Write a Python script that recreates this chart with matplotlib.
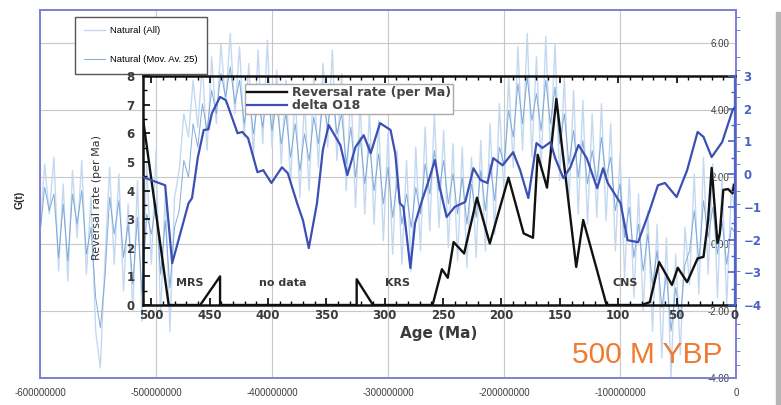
import numpy as np
import matplotlib
matplotlib.use('Agg')
import matplotlib.pyplot as plt
from matplotlib.ticker import MultipleLocator, AutoMinorLocator
from matplotlib.patches import Rectangle
from matplotlib import font_manager

names = {f.name for f in font_manager.fontManager.ttflist}
SANS = 'Liberation Sans' if 'Liberation Sans' in names else 'DejaVu Sans'

# ---------------- data ----------------
# Outer chart: "Natural" G(t) series, every 4 Ma from -600 Ma to 0
natural_age_ma = np.arange(-600, 1, 4)
natural_all = [
    0.3, 2.4, 0.9, 2.6, -0.8, 1.8, -1.1, 2.2, 0.2, 2.5,
    -0.9, 1.4, -2.6, -3.7, -0.5, 2.3, -0.6, 2.1, -1.4, 1.2,
    -2.0, 1.9, -2.3, 2.4, -0.6, 2.8, -2.2, 1.6, -2.6, 1.4,
    2.2, 3.9, 3.2, 4.9, 3.5, 5.4, 2.8, 5.6, 3.6, 6.0,
    4.2, 6.3, 3.9, 5.9, 3.2, 5.4, 2.6, 5.8, 3.0, 6.1,
    2.9, 5.2, 2.4, 4.9, 1.8, 4.6, 1.4, 4.3, 1.6, 5.0,
    2.3, 5.4, 2.9, 5.8, 2.5, 5.1, 1.6, 4.7, 1.1, 4.2,
    0.9, 4.0, 0.6, 3.7, 0.1, 3.3, -0.3, 2.8, -0.6, 2.5,
    -0.8, 2.9, -0.2, 3.5, 0.4, 3.9, 0.5, 3.4, -0.1, 3.0,
    -0.5, 2.9, -0.7, 2.6, -0.4, 3.1, -0.2, 3.6, 0.3, 4.2,
    1.5, 5.0, 2.3, 5.9, 2.8, 6.3, 2.6, 5.6, 2.2, 6.2,
    2.7, 6.0, 1.9, 5.0, 1.2, 4.6, 0.9, 4.3, 0.6, 3.9,
    0.8, 4.2, 0.7, 3.6, -0.2, 2.7, -1.0, 2.0, -1.6, 1.5,
    -2.0, 1.0, -2.6, 0.6, -3.4, 0.2, -4.0, -0.3, -3.3, 0.5,
    -1.2, 2.1, -1.5, 2.6, -0.9, 2.4, -1.6, 2.0, -1.8, 1.7, 0.7,
]
natural_mov_av = [
    0.3, 1.7, 1.0, 1.5, -0.4, 1.2, -0.5, 1.5, 0.6, 1.6,
    -0.3, 0.5, -1.6, -2.5, -1.0, 1.4, 0.3, 1.3, -0.4, 0.6,
    -1.2, 0.8, -1.5, 0.9, 0.3, 1.2, -0.9, 0.7, -1.3, 0.5,
    1.0, 2.5, 2.0, 3.6, 2.9, 4.2, 3.4, 4.6, 3.9, 5.1,
    4.4, 5.3, 4.2, 4.9, 3.6, 4.5, 3.3, 4.3, 3.5, 4.6,
    3.4, 4.2, 3.0, 3.9, 2.6, 3.6, 2.2, 3.3, 2.5, 3.8,
    3.0, 4.3, 3.5, 4.6, 3.3, 3.9, 2.4, 3.5, 2.0, 3.2,
    1.8, 3.0, 1.6, 2.7, 1.2, 2.3, 0.8, 1.9, 0.6, 1.5,
    0.5, 1.7, 0.9, 2.4, 1.5, 2.8, 1.6, 2.5, 1.2, 2.1,
    0.9, 2.0, 0.6, 1.8, 0.8, 2.2, 1.0, 2.4, 1.3, 2.9,
    2.4, 4.0, 3.2, 4.8, 3.6, 5.0, 3.7, 4.5, 3.4, 4.9,
    3.6, 4.7, 3.0, 3.9, 2.4, 3.4, 2.0, 3.1, 1.8, 2.8,
    1.9, 3.2, 2.0, 2.6, 1.0, 1.8, 0.2, 1.1, -0.4, 0.6,
    -0.8, 0.3, -1.2, -0.2, -1.9, -0.9, -2.6, -1.3, -2.2, -0.6,
    -0.2, 1.0, -0.5, 1.3, 0.2, 1.1, -0.3, 0.7, -0.6, 0.5, 0.3,
]
outer_xticks = [-600000000, -500000000, -400000000, -300000000, -200000000, -100000000, 0]
outer_xlabels = ['-600000000', '-500000000', '-400000000', '-300000000',
                 '-200000000', '-100000000', '0']
outer_yticks = [-4, -2, 0, 2, 4, 6]
outer_ylabels = ['-4.00', '-2.00', '0.00', '2.00', '4.00', '6.00']

# Inner chart: reversal rate (per Ma) vs age (Ma)
rev_age = [507, 485, 458, 441, 441, 324, 324, 310, 259, 251, 246, 241, 232, 221, 210,
           194, 181, 173, 169, 161, 153, 136, 130, 110, 80, 73, 65, 54, 49, 41,
           32, 27, 23, 20, 15, 13, 10, 6, 2, 1]
rev_rate = [6.5, 0, 0, 1.0, 0, 0, 0.9, 0, 0, 1.25, 0.95, 2.2, 1.8, 3.75, 2.15,
            4.45, 2.5, 2.35, 5.25, 4.1, 7.2, 1.33, 2.97, 0, 0, 0.1, 1.5, 0.7, 1.3, 0.8,
            1.63, 1.68, 2.97, 4.79, 2.17, 2.5, 4.02, 4.05, 3.9, 4.2]

# Inner chart: delta O18 vs age (Ma)
d18o_age = [507, 488, 482, 478, 468, 465, 460, 455, 451, 448, 441, 436, 426, 422, 417,
            409, 404, 397, 388, 383, 375, 370, 365, 358, 353, 348, 338, 332, 325, 318,
            312, 304, 295, 291, 287, 284, 278, 274, 268, 263, 257, 253, 247, 240, 231,
            224, 218, 212, 207, 199, 190, 184, 177, 170, 165, 158, 154, 147, 141, 134,
            127, 118, 113, 109, 98, 92, 83, 73, 66, 60, 50, 41, 32, 27, 20, 11, 2, 0]
d18o_val = [-0.09, -0.34, -2.72, -2.2, -0.89, -0.73, 0.52, 1.35, 1.37, 1.86, 2.36, 2.26, 1.25, 1.29, 1.1,
            0.06, 0.12, -0.27, 0.21, 0.03, -0.89, -1.41, -2.26, -0.89, 0.73, 1.5, 0.89, -0.03, 0.83, 1.19,
            0.64, 1.56, 1.35, 0.64, -0.89, -1.0, -2.87, -1.5, -0.8, -0.27, 0.43, -0.39, -1.31, -1.0, -0.85,
            0.18, -0.18, -0.27, 0.49, 0.27, 0.67, 0.12, -0.73, 0.95, 0.8, 0.98, 0.49, -0.12, 0.21, 0.89,
            0.49, -0.43, 0.18, -0.27, -0.89, -2.02, -2.08, -1.1, -0.34, -0.27, -0.7, 0.12, 1.29, 1.14, 0.52,
            0.98, 1.96, 2.05]

annotations = [('MRS', 467, 0.77), ('no data', 387, 0.77), ('KRS', 289, 0.77), ('CNS', 94, 0.77)]

# ---------------- figure ----------------
W, H = 781, 405
fig = plt.figure(figsize=(W / 100, H / 100), dpi=100)
fig.patch.set_facecolor('white')


def fr(x0, y0, x1, y1):
    return [x0 / W, 1 - y1 / H, (x1 - x0) / W, (y1 - y0) / H]


FRAME = '#7b80d6'
# ---- outer chart ----
ax0 = fig.add_axes(fr(40, 10, 736, 378))
x_years = natural_age_ma * 1e6
ax0.plot(x_years, natural_all, color='#c4d9f0', lw=1.0, label='Natural (All)', zorder=2)
ax0.plot(x_years, natural_mov_av, color='#6e9dd3', lw=0.7, alpha=0.85,
         label='Natural (Mov. Av. 25)', zorder=3)
ax0.set_xlim(-600e6, 0)
ax0.set_ylim(-4, 7)
ax0.set_xticks(outer_xticks, outer_xlabels, fontfamily=SANS, fontsize=7, color='#404040')
ax0.set_yticks(outer_yticks, outer_ylabels, ha='right', fontfamily=SANS, fontsize=7, color='#404040')
ax0.yaxis.set_minor_locator(AutoMinorLocator(5))
ax0.tick_params(axis='x', length=0, pad=7)
ax0.tick_params(axis='y', which='major', left=False, right=False, labelleft=False,
                labelright=True, pad=-8)
ax0.tick_params(axis='y', which='minor', left=False, right=True, direction='out',
                length=3, color='#6070c8')
ax0.grid(True, color='#c8c8c8', lw=0.8)
ax0.set_axisbelow(True)
for s in ax0.spines.values():
    s.set_color(FRAME)
    s.set_linewidth(1.4)
ax0.legend(loc='upper left', bbox_to_anchor=(75 / W, 1 - 17 / H), bbox_transform=fig.transFigure,
           fancybox=False, edgecolor='#555555', framealpha=1, prop={'family': SANS, 'size': 6.8},
           labelspacing=2.1, handlelength=2.2, borderpad=1.0, borderaxespad=0, handletextpad=0.5)
fig.text(20 / W, 1 - 200 / H, 'G(t)', rotation=90, ha='center', va='center',
         fontsize=7.5, fontfamily=SANS, color='#222222', fontweight='bold')

# ---- inner chart ----
ax1 = fig.add_axes(fr(143, 76, 735, 305))
ax1.patch.set_alpha(0)
l1, = ax1.plot(rev_age, rev_rate, color='#111111', lw=1.7, label='Reversal rate (per Ma)', zorder=4)
ax1.set_xlim(507, 0)
ax1.set_ylim(0, 8)
ax2 = ax1.twinx()
l2, = ax2.plot(d18o_age, d18o_val, color='#3b4fb4', lw=1.6, label='delta O18', zorder=3)
ax2.set_ylim(-4, 3)

TL = '#3a3a3a'
BLUE = '#4a62c4'
ax1.xaxis.set_major_locator(MultipleLocator(50))
ax1.xaxis.set_minor_locator(MultipleLocator(10))
ax1.yaxis.set_major_locator(MultipleLocator(1))
ax1.yaxis.set_minor_locator(MultipleLocator(0.5))
ax1.tick_params(axis='both', which='major', direction='in', length=5, width=1.2,
                labelsize=8.5, labelcolor=TL, top=True, bottom=True, left=True, right=False)
ax1.tick_params(axis='both', which='minor', direction='in', length=3, width=1.0,
                top=True, bottom=True, left=True, right=False)
ax1.tick_params(axis='x', pad=3)
ax1.tick_params(axis='y', pad=6)
for lab in ax1.get_xticklabels() + ax1.get_yticklabels():
    lab.set_fontweight('bold')
for k in ['top', 'bottom', 'left']:
    ax1.spines[k].set_color('#111111')
    ax1.spines[k].set_linewidth(1.8)
ax1.spines['right'].set_visible(False)

ax2.yaxis.set_major_locator(MultipleLocator(1))
ax2.yaxis.set_minor_locator(MultipleLocator(0.5))
ax2.tick_params(axis='y', which='major', direction='in', length=5, width=1.2, color=BLUE,
                labelsize=8.5, labelcolor=BLUE, pad=6)
ax2.tick_params(axis='y', which='minor', direction='in', length=3, width=1.0, color=BLUE)
for lab in ax2.get_yticklabels():
    lab.set_fontweight('bold')
for k in ['top', 'bottom', 'left']:
    ax2.spines[k].set_visible(False)
ax2.spines['right'].set_color('#5064c8')
ax2.spines['right'].set_linewidth(1.6)

ax1.set_xlabel('Age (Ma)', fontsize=11, fontweight='bold', color=TL, labelpad=3)
fig.text(97 / W, 1 - 198 / H, 'Reversal rate (per Ma)', rotation=90, ha='center', va='center',
         fontsize=8, color='#333333')

for txt, xa, ya in annotations:
    ax1.text(xa, ya, txt, ha='center', va='center', fontsize=8, fontweight='bold', color=TL, zorder=5)

leg = ax2.legend([l1, l2], ['Reversal rate (per Ma)', 'delta O18'], loc='upper left',
                 bbox_to_anchor=(245 / W, 1 - 84 / H), bbox_transform=fig.transFigure,
                 fancybox=False, edgecolor='#aaaaaa', framealpha=1,
                 prop={'size': 9, 'weight': 'bold'}, labelcolor='#444444',
                 handlelength=3.2, borderpad=0.15, labelspacing=0.0, handletextpad=0.4,
                 borderaxespad=0)
leg.set_zorder(10)

fig.text(647 / W, 1 - 355 / H, '500 M YBP', ha='center', va='center', fontsize=21.5,
         fontfamily=SANS, color='#f07a30')

fig.patches.append(Rectangle((776 / W, 0), 5 / W, 393 / H, transform=fig.transFigure,
                             color='#b5b5b5', zorder=0))

fig.savefig('out.png', dpi=100)
